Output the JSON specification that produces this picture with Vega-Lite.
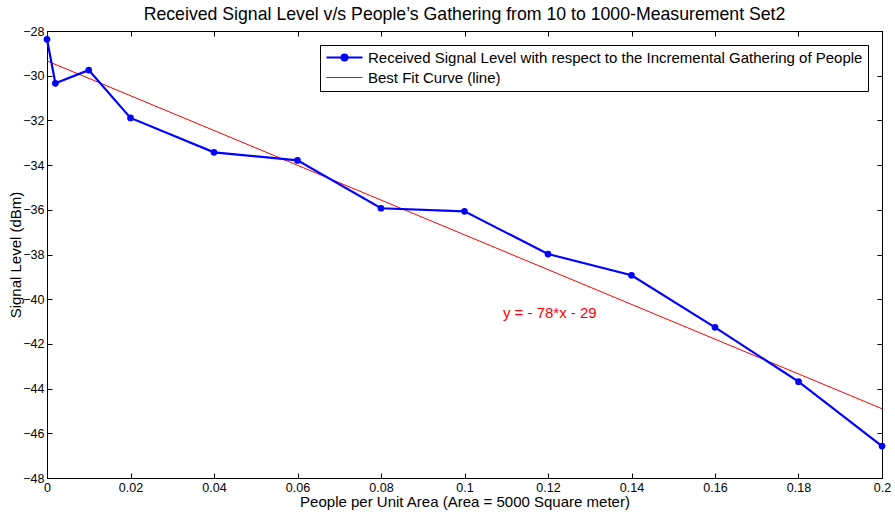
{
  "$schema": "https://vega.github.io/schema/vega-lite/v6.json",
  "width": 835,
  "height": 447,
  "autosize": "none",
  "padding": {"left": 47, "top": 31, "right": 13, "bottom": 34},
  "background": "white",
  "title": {"text": "Received Signal Level v/s People’s Gathering from 10 to 1000-Measurement Set2", "fontSize": 17.7, "font": "Liberation Sans", "fontWeight": "normal", "color": "black", "anchor": "middle", "offset": 1},
  "config": {
    "view": {"stroke": "black", "strokeWidth": 1},
    "font": "Liberation Sans",
    "axis": {"grid": false, "tickColor": "black", "domainColor": "black", "labelColor": "black", "titleColor": "black", "labelFont": "Liberation Sans", "titleFont": "Liberation Sans", "labelFontSize": 12.5, "titleFontSize": 15, "titleFontWeight": "normal", "tickSize": -5, "labelFlush": false, "labelOverlap": false}
  },
  "datasets": {
    "measured": [
      {"x": 0, "y": -28.37, "series": "Received Signal Level with respect to the Incremental Gathering of People"},
      {"x": 0.002, "y": -30.34, "series": "Received Signal Level with respect to the Incremental Gathering of People"},
      {"x": 0.01, "y": -29.75, "series": "Received Signal Level with respect to the Incremental Gathering of People"},
      {"x": 0.02, "y": -31.89, "series": "Received Signal Level with respect to the Incremental Gathering of People"},
      {"x": 0.04, "y": -33.43, "series": "Received Signal Level with respect to the Incremental Gathering of People"},
      {"x": 0.06, "y": -33.79, "series": "Received Signal Level with respect to the Incremental Gathering of People"},
      {"x": 0.08, "y": -35.93, "series": "Received Signal Level with respect to the Incremental Gathering of People"},
      {"x": 0.1, "y": -36.07, "series": "Received Signal Level with respect to the Incremental Gathering of People"},
      {"x": 0.12, "y": -37.98, "series": "Received Signal Level with respect to the Incremental Gathering of People"},
      {"x": 0.14, "y": -38.93, "series": "Received Signal Level with respect to the Incremental Gathering of People"},
      {"x": 0.16, "y": -41.26, "series": "Received Signal Level with respect to the Incremental Gathering of People"},
      {"x": 0.18, "y": -43.69, "series": "Received Signal Level with respect to the Incremental Gathering of People"},
      {"x": 0.2, "y": -46.57, "series": "Received Signal Level with respect to the Incremental Gathering of People"}
    ],
    "fit": [
      {"x": 0, "y": -29.34, "series": "Best Fit Curve (line)"},
      {"x": 0.2, "y": -44.9, "series": "Best Fit Curve (line)"}
    ],
    "note": [
      {"x": 0.1092, "y": -40.62, "label": "y = - 78*x - 29"}
    ]
  },
  "layer": [
    {
      "data": {"name": "fit"},
      "mark": {"type": "line", "strokeWidth": 1},
      "encoding": {
        "x": {"field": "x", "type": "quantitative", "scale": {"domain": [0, 0.2], "nice": false, "zero": false}, "axis": null},
        "y": {"field": "y", "type": "quantitative", "scale": {"domain": [-48, -28], "nice": false, "zero": false}, "axis": null},
        "color": {"field": "series", "type": "nominal"}
      }
    },
    {
      "data": {"name": "measured"},
      "mark": {"type": "line", "strokeWidth": 2.2, "point": {"filled": true, "size": 45}},
      "encoding": {
        "x": {"field": "x", "type": "quantitative", "scale": {"domain": [0, 0.2], "nice": false, "zero": false},
          "axis": {"orient": "bottom", "values": [0, 0.02, 0.04, 0.06, 0.08, 0.1, 0.12, 0.14, 0.16, 0.18, 0.2], "format": "~g", "labelPadding": 8, "title": "People per Unit Area (Area = 5000 Square meter)", "titlePadding": 1}},
        "y": {"field": "y", "type": "quantitative", "scale": {"domain": [-48, -28], "nice": false, "zero": false},
          "axis": {"orient": "left", "values": [-48, -46, -44, -42, -40, -38, -36, -34, -32, -30, -28], "labelPadding": 8, "title": "Signal Level (dBm)", "titlePadding": -1}},
        "color": {"field": "series", "type": "nominal",
          "scale": {"domain": ["Received Signal Level with respect to the Incremental Gathering of People", "Best Fit Curve (line)"], "range": ["#0000ff", "#ff0000"]},
          "legend": {"orient": "none", "legendX": 273, "legendY": 14, "title": null, "strokeColor": "black", "fillColor": "white", "padding": 5, "labelFontSize": 15, "labelFont": "Liberation Sans", "labelColor": "black", "labelLimit": 700, "symbolSize": 144, "labelOffset": 28, "rowPadding": 4,
            "encode": {"symbols": {"update": {
              "shape": {"signal": "datum.value == 'Best Fit Curve (line)' ? 'M-1,0L5,0' : 'M-1,0L5,0M1.5,0A0.5,0.5 0 1,1 2.5,0A0.5,0.5 0 1,1 1.5,0Z'"},
              "fill": {"signal": "datum.value == 'Best Fit Curve (line)' ? 'transparent' : '#0000ff'"},
              "stroke": {"signal": "datum.value == 'Best Fit Curve (line)' ? '#ff0000' : '#0000ff'"},
              "strokeWidth": {"signal": "datum.value == 'Best Fit Curve (line)' ? 1 : 2"},
              "opacity": {"value": 1}
            }}}}
        }
      }
    },
    {
      "data": {"name": "note"},
      "mark": {"type": "text", "align": "left", "baseline": "middle", "color": "#ff0000", "fontSize": 15, "font": "Liberation Sans"},
      "encoding": {
        "x": {"field": "x", "type": "quantitative", "scale": {"domain": [0, 0.2], "nice": false, "zero": false}, "axis": null},
        "y": {"field": "y", "type": "quantitative", "scale": {"domain": [-48, -28], "nice": false, "zero": false}, "axis": null},
        "text": {"field": "label"}
      }
    },
    {
      "data": {"name": "fit"},
      "mark": {"type": "point", "opacity": 0},
      "encoding": {
        "x": {"field": "x", "type": "quantitative", "scale": {"domain": [0, 0.2], "nice": false, "zero": false},
          "axis": {"orient": "top", "values": [0, 0.02, 0.04, 0.06, 0.08, 0.1, 0.12, 0.14, 0.16, 0.18, 0.2], "labels": false, "title": null}},
        "y": {"field": "y", "type": "quantitative", "scale": {"domain": [-48, -28], "nice": false, "zero": false},
          "axis": {"orient": "right", "values": [-48, -46, -44, -42, -40, -38, -36, -34, -32, -30, -28], "labels": false, "title": null}}
      }
    }
  ],
  "resolve": {"scale": {"x": "independent", "y": "independent"}}
}
